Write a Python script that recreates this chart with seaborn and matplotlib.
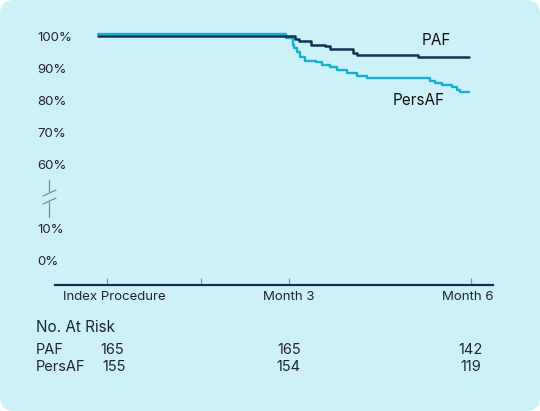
import numpy as np
import pandas as pd
import matplotlib
matplotlib.use("Agg")
import matplotlib.pyplot as plt
import matplotlib.transforms as mtransforms
from matplotlib.lines import Line2D
from matplotlib.patches import FancyBboxPatch
import seaborn as sns

# freedom from AF (months after index procedure, %)
paf_months = [-0.15, 3.10, 3.17, 3.37, 3.60, 3.68, 4.06, 4.13, 5.14, 5.98]
paf_pct = [100.0, 99.2, 98.4, 97.3, 96.8, 96.0, 94.8, 94.1, 93.3, 93.3]

persaf_months = [-0.15, 2.95, 3.07, 3.09, 3.14, 3.19, 3.27, 3.45, 3.55, 3.68,
                 3.80, 3.96, 4.13, 4.29, 5.33, 5.42, 5.52, 5.70, 5.78, 5.83, 5.98]
persaf_pct = [100.5, 99.4, 97.3, 96.3, 95.0, 93.3, 92.3, 91.8, 91.0, 90.2,
              89.4, 88.3, 87.5, 87.0, 86.0, 85.2, 84.7, 84.0, 83.1, 82.4, 82.4]

ytick_pct = [0, 10, 60, 70, 80, 90, 100]
xtick_months = [0, 1.55, 3, 6]
xtick_labels = ["Index Procedure", "", "Month 3", "Month 6"]

risk_groups = ["PAF", "PersAF"]
risk_months = [0.08, 3, 6]
risk_counts = {"PAF": [165, 165, 142], "PersAF": [155, 154, 119]}

colors = {"PAF": "#0c3552", "PersAF": "#16b1d2"}
bg = "#cdf1f9"
ink = "#1e262b"


def to_axis(v):
    # broken axis: 0-10% kept, 10-60% squeezed into one slot
    v = np.asarray(v, dtype=float)
    return np.where(v >= 60, (v - 60) / 10 + 3, v / 10)


def px(x, y):
    return x / 540, 1 - y / 411


sns.set_theme(style="white")
plt.rcParams["font.family"] = ["Inter", "DejaVu Sans"]

df = pd.concat([
    pd.DataFrame({"month": paf_months, "pct": paf_pct, "group": "PAF"}),
    pd.DataFrame({"month": persaf_months, "pct": persaf_pct, "group": "PersAF"}),
])
df["pos"] = to_axis(df["pct"])

fig = plt.figure(figsize=(5.4, 4.11), dpi=100)
fig.patch.set_facecolor("white")
fig.add_artist(FancyBboxPatch((0, 0), 5.4, 4.11,
                              boxstyle="round,pad=0,rounding_size=0.14",
                              transform=fig.dpi_scale_trans,
                              facecolor=bg, edgecolor="none", zorder=0))

ax = fig.add_axes([55 / 540, 126 / 411, 438 / 540, 265 / 411])
ax.set_facecolor("none")

sns.lineplot(data=df[df["group"] == "PersAF"], x="month", y="pos",
             color=colors["PersAF"], drawstyle="steps-post", sort=False,
             linewidth=1.7, ax=ax)
sns.lineplot(data=df[df["group"] == "PAF"], x="month", y="pos",
             color=colors["PAF"], drawstyle="steps-post", sort=False,
             linewidth=1.8, ax=ax)

ax.set_xlim(-0.86, 6.37)
ax.set_ylim(-0.78, 7.5)
ax.set_xlabel("")
ax.set_ylabel("")

for s in ["top", "right", "left"]:
    ax.spines[s].set_visible(False)
ax.spines["bottom"].set_color("#0c3552")
ax.spines["bottom"].set_linewidth(1.6)

ax.set_yticks(to_axis(ytick_pct))
ax.set_yticklabels([f"{v}%" for v in ytick_pct])
ax.tick_params(axis="y", length=0, pad=13, labelsize=9.5, labelcolor=ink)
for lab in ax.get_yticklabels():
    lab.set_horizontalalignment("left")

ax.set_xticks(xtick_months)
ax.set_xticklabels([])
ax.tick_params(axis="x", direction="in", length=5, width=0.9,
               color="#7d95a2", bottom=True)

# x labels (first sits a bit right of its tick, last is flush with the axis end)
lab_tr = mtransforms.blended_transform_factory(ax.transData, fig.transFigure)
ly = px(0, 297)[1]
ax.text(xtick_months[0] + 0.12, ly, xtick_labels[0], transform=lab_tr,
        ha="center", va="center", fontsize=9.5, color=ink)
ax.text(xtick_months[2], ly, xtick_labels[2], transform=lab_tr,
        ha="center", va="center", fontsize=9.5, color=ink)
ax.text(6.37, ly, xtick_labels[3], transform=lab_tr,
        ha="right", va="center", fontsize=9.5, color=ink)

# curve labels
ax.text(5.43, to_axis(98.5), "PAF", ha="center", va="center", fontsize=11, color="#111")
ax.text(5.14, to_axis(80.0), "PersAF", ha="center", va="center", fontsize=11, color="#111")

# axis break mark
bc = "#6f8e9e"
for (x0, y0, x1, y1) in [(49, 180, 49, 191), (49, 202, 49, 217),
                         (43, 196, 56, 190), (43, 204, 56, 198)]:
    a, b = px(x0, y0)
    c, d = px(x1, y1)
    fig.add_artist(Line2D([a, c], [b, d], color=bc, linewidth=0.9))

# number at risk table
fig.text(*px(36, 327), "No. At Risk", ha="left", va="center", fontsize=11, color=ink)
for i, g in enumerate(risk_groups):
    yy = px(0, 350 + 17 * i)[1]
    fig.text(px(36, 0)[0], yy, g, ha="left", va="center", fontsize=10.5, color=ink)
    for m, n in zip(risk_months, risk_counts[g]):
        ax.text(m + (0.04 if (i == 1 and m < 1) else 0), yy, str(n), transform=lab_tr,
                ha="center", va="center", fontsize=10.5, color=ink)

fig.savefig("out.png", dpi=100)
